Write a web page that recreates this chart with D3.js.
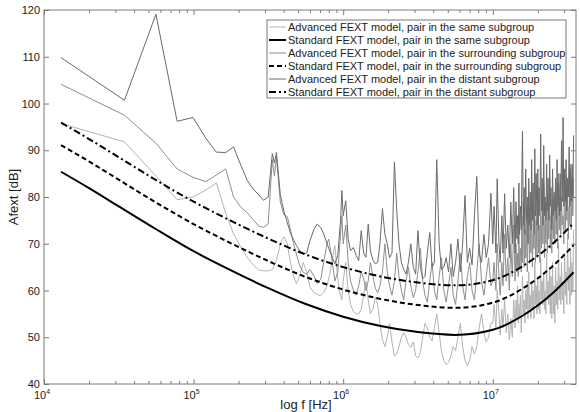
<!DOCTYPE html>
<meta charset="utf-8">
<style>
body { margin: 0; background: #fff; }
text { font-family: "Liberation Sans", Arial, sans-serif; fill: #222; }
.adv { fill: none; stroke-width: 1; stroke-linejoin: round; }
.std { fill: none; stroke: #000; stroke-width: 2; }
</style>
<svg width="580" height="412"></svg>
<script src="https://d3js.org/d3.v7.min.js"></script>
<script>

// standard models (smooth), read at a few frequencies
var stdFreq = [1.3e4, 2e4, 3.16e4, 5.62e4, 1e5, 1.78e5, 3.16e5, 5.62e5, 1e6, 1.78e6, 3.16e6, 5.62e6, 1e7, 1.58e7, 2.51e7, 3.47e7];
var stdSame = [85.4, 81.9, 78.0, 73.1, 68.4, 64.3, 60.5, 57.1, 54.4, 52.4, 51.1, 50.5, 51.6, 54.6, 59.4, 63.9];
var stdSurr = [91.1, 87.6, 83.7, 78.8, 74.2, 70.1, 66.3, 62.9, 60.2, 58.2, 56.9, 56.3, 57.4, 60.4, 65.2, 69.7];
var stdDist = [95.9, 92.4, 88.5, 83.6, 79.0, 74.9, 71.1, 67.7, 65.0, 63.0, 61.7, 61.1, 62.2, 65.2, 70.0, 74.4];

// advanced models below 1 MHz: [f, dB]
var advSameLo = [[1.3e4,95.7],[3.45e4,91.8],[5.6e4,84.5],[7.76e4,79.4],[9.92e4,80.0],[1.21e5,81.5],[1.42e5,83.0],
  [1.64e5,76.5],[1.85e5,72.1],[2.07e5,69.3],[2.29e5,67.0],[2.5e5,65.5],[2.72e5,64.4],[2.93e5,64.2],[3.15e5,64.2],
  [3.36e5,64.5],[3.58e5,66.4],[3.8e5,70.0],[4.01e5,71.5],[4.23e5,70.0],[4.44e5,66.0],[4.66e5,63.0],[4.87e5,61.5],
  [5.1e5,63.0],[5.4e5,66.0],[5.7e5,64.0],[6.0e5,60.7],[6.4e5,59.5],[7.0e5,58.9],[7.4e5,59.5],[7.8e5,61.0],
  [8.2e5,64.0],[8.6e5,68.0],[8.8e5,69.6],[9.1e5,64.2],[9.4e5,60.0],[9.8e5,58.0]];
var advSurrLo = [[1.3e4,104.1],[3.45e4,97.5],[5.6e4,91.5],[7.76e4,86.0],[9.92e4,84.2],[1.21e5,83.3],[1.42e5,84.7],
  [1.64e5,86.0],[1.85e5,80.0],[2.07e5,77.8],[2.29e5,76.6],[2.5e5,75.2],[2.72e5,73.8],[2.93e5,73.5],[3.15e5,74.2],
  [3.36e5,88.0],[3.47e5,84.5],[3.58e5,88.6],[3.8e5,79.0],[4.01e5,76.2],[4.23e5,75.8],[4.44e5,73.0],[4.66e5,70.0],
  [4.87e5,67.8],[5.1e5,65.5],[5.4e5,63.9],[5.7e5,63.5],[6.0e5,64.5],[6.4e5,63.0],[6.7e5,61.5],[7.1e5,62.5],
  [7.4e5,66.0],[7.8e5,70.0],[8.0e5,71.0],[8.3e5,68.0],[8.8e5,62.0],[9.2e5,64.0],[9.6e5,72.0],[9.8e5,76.0]];
var advDistLo = [[1.3e4,109.8],[3.45e4,100.7],[5.6e4,119.1],[7.76e4,96.2],[9.92e4,97.0],[1.21e5,92.5],[1.42e5,89.6],
  [1.64e5,89.5],[1.85e5,90.7],[2.07e5,86.8],[2.29e5,83.5],[2.5e5,81.7],[2.72e5,80.5],[2.93e5,79.3],[3.15e5,80.0],
  [3.36e5,89.3],[3.47e5,87.3],[3.58e5,89.5],[3.8e5,80.5],[4.01e5,77.0],[4.23e5,74.5],[4.44e5,72.3],[4.66e5,70.8],
  [4.87e5,69.6],[5.1e5,68.6],[5.4e5,67.8],[5.7e5,68.0],[6.0e5,70.7],[6.4e5,73.2],[6.7e5,74.2],[7.1e5,73.4],
  [7.4e5,72.1],[7.8e5,70.0],[8.2e5,68.2],[8.8e5,65.7],[9.2e5,67.5],[9.6e5,75.0],[9.8e5,81.4]];

// advanced models above 1 MHz, on a shared frequency grid
var freqHi = [1.00e6,1.04e6,1.08e6,1.12e6,1.17e6,1.22e6,1.27e6,1.32e6,1.37e6,1.42e6,1.47e6,1.52e6,1.58e6,1.64e6,1.70e6,1.76e6,
  1.83e6,1.90e6,1.97e6,2.04e6,2.12e6,2.20e6,2.28e6,2.36e6,2.45e6,2.54e6,2.63e6,2.73e6,2.83e6,2.94e6,3.05e6,3.16e6,
  3.28e6,3.40e6,3.52e6,3.65e6,3.79e6,3.93e6,4.07e6,4.22e6,4.38e6,4.54e6,4.71e6,4.88e6,5.06e6,5.25e6,5.44e6,5.64e6,
  5.85e6,6.07e6,6.29e6,6.52e6,6.76e6,7.01e6,7.27e6,7.54e6,7.82e6,8.11e6,8.41e6,8.72e6,9.04e6,9.37e6,9.72e6,
  1.00e7,1.02e7,1.05e7,1.07e7,1.10e7,1.12e7,1.15e7,1.17e7,1.20e7,1.23e7,1.26e7,1.29e7,1.32e7,1.35e7,1.38e7,
  1.41e7,1.43e7,1.45e7,1.465e7,1.48e7,1.495e7,1.51e7,1.53e7,1.55e7,1.565e7,
  1.58e7,1.60e7,1.62e7,1.64e7,1.66e7,1.68e7,1.70e7,1.72e7,1.74e7,1.76e7,
  1.78e7,1.80e7,1.82e7,1.84e7,1.86e7,1.885e7,1.91e7,1.93e7,1.95e7,1.975e7,
  2.00e7,2.02e7,2.04e7,2.065e7,2.09e7,2.115e7,2.14e7,2.165e7,2.19e7,2.215e7,
  2.24e7,2.265e7,2.29e7,2.315e7,2.34e7,2.37e7,2.40e7,2.425e7,2.45e7,2.48e7,
  2.51e7,2.54e7,2.57e7,2.60e7,2.63e7,2.66e7,2.69e7,2.72e7,2.75e7,2.785e7,
  2.82e7,2.85e7,2.88e7,2.915e7,2.95e7,2.985e7,3.02e7,3.055e7,3.09e7,3.125e7,
  3.16e7,3.20e7,3.24e7,3.275e7,3.31e7,3.35e7,3.39e7,3.43e7,3.47e7];
var advSameHi = [62,66,60,57,55.5,55,55,56,59,62,58,55,56,58.5,57,53,
  49.5,48,50,53,49,46,46.4,48,50,51,50,48.5,47.8,49,46,45.6,
  46.7,50,53,52,50,49.2,52,55,51,47,45,44.2,44.6,46,48,47.1,
  50,53,48,45,43.9,45,48,46.4,48,52,55,51,49,50,53,
  53,57,52,60,55,50.5,56,52,58,51,55,49.5,54,50,58,
  52,58,54,61,53,57,54,59,51,56,
  63,55,58,53,60,56,62,54,64,56,
  59,54,62,56,60,54,66,57,61,55,
  63,56,60,55,67,58,62,57,64,56,
  60,55,68,58,62,57,65,55,63,54,
  66,55,61,53,65,57,62,56,70,58,
  63,57,66,58,62,55,68,59,64,57,
  72,60,65,57,69,59,66,60,73];
var advSurrHi = [70,74,66,62,60,59,61,64,62.5,60,62,66,63,60.5,59.5,61,
  64,70,64,61,59,62,68,63,60,58,62,65,61,58.5,60,64,
  69,62,59,57.5,62,66,60,58,63,67,60,57.5,61,65,59,57,
  62,68,61,58,63,66,60,58,64,70,62,59,63,67,61,
  62,66,60,70,63,59,66,61,72,62,67,60,70,63,74,
  62,70,64,68,63,72,65,69,64,76,
  66,79,65,73,67,75,64,72,78,66,
  74,68,81,65,72,69,77,66,75,67,
  82,68,74,66,76,69,80,70,83,67,
  75,70,79,68,77,71,84,69,76,68,
  80,71,77,70,82,72,78,69,85,73,
  79,72,80,74,76,70,86,73,81,75,
  82,71,78,74,87,73,84,76,84];
var advDistHi = [76,79.2,71,68.5,69.2,67.5,66.4,72.8,68,67.1,74.2,68.5,66.5,65.7,66,70,
  77.5,72,70,67,68,87.5,77.1,70,66,64.5,63.5,66,70,65,63.5,72.8,
  65,62.5,63,68,72.4,65,66,88,70,64.5,65,67,64,70,63,66,
  71,64,70,80.3,66,69,65.5,76,84.4,68,66,72,67,70,80.8,
  70,78,68,83.9,70,66,76,68,80.7,69,74,67,78.9,70,82,
  68,79,71,76,70,83,72,78,73,85,
  94.1,74,82,72,86,75,80,70,84,74,
  81,73,88,75,83,72,90.3,76,85,74,
  86,73,82,76,93.5,77,84,74,91,76,
  80,75,87,77,84,75,89,78,82,73,
  86,76,81,77,84,75,88,78,83,76,
  85,77,92,79,97,78,86,79,88,77,
  84,80,90.7,78,86,79,87,80,93.2];

var yTicks = [40, 50, 60, 70, 80, 90, 100, 110, 120];
var xMajor = [1e4, 1e5, 1e6, 1e7];

var legendItems = [
  {label: "Advanced FEXT model, pair in the same subgroup", cls: "adv", color: "#b3b3b3", dash: null},
  {label: "Standard FEXT model, pair in the same subgroup", cls: "std", color: "#000", dash: null},
  {label: "Advanced FEXT model, pair in the surrounding subgroup", cls: "adv", color: "#8e8e8e", dash: null},
  {label: "Standard FEXT model, pair in the surrounding subgroup", cls: "std", color: "#000", dash: "5,3"},
  {label: "Advanced FEXT model, pair in the distant subgroup", cls: "adv", color: "#6a6a6a", dash: null},
  {label: "Standard FEXT model, pair in the distant subgroup", cls: "std", color: "#000", dash: "7,3,2,3"}
];

var svg = d3.select("svg"),
    plotL = 44, plotR = 576, plotT = 10, plotB = 384;

var x = d3.scaleLog().domain([1e4, 3.6e7]).range([plotL, plotR]),
    y = d3.scaleLinear().domain([40, 120]).range([plotB, plotT]);

svg.append("clipPath").attr("id", "clip")
  .append("rect").attr("x", plotL).attr("y", plotT).attr("width", plotR - plotL).attr("height", plotB - plotT);

var plot = svg.append("g").attr("clip-path", "url(#clip)");

function joinHi(lo, hi) {
  return lo.concat(freqHi.map(function(f, i) { return [f, hi[i]]; }));
}

var line = d3.line()
    .x(function(d) { return x(d[0]); })
    .y(function(d) { return y(d[1]); });

var smooth = d3.line()
    .curve(d3.curveMonotoneX)
    .x(function(d) { return x(d[0]); })
    .y(function(d) { return y(d[1]); });

var advSeries = [
  {data: joinHi(advSameLo, advSameHi), color: legendItems[0].color},
  {data: joinHi(advSurrLo, advSurrHi), color: legendItems[2].color},
  {data: joinHi(advDistLo, advDistHi), color: legendItems[4].color}
];

plot.selectAll(".adv")
  .data(advSeries)
  .enter().append("path")
    .attr("class", "adv")
    .attr("stroke", function(d) { return d.color; })
    .attr("d", function(d) { return line(d.data); });

var stdSeries = [
  {vals: stdSame, dash: null},
  {vals: stdSurr, dash: legendItems[3].dash},
  {vals: stdDist, dash: legendItems[5].dash}
];

plot.selectAll(".std")
  .data(stdSeries)
  .enter().append("path")
    .attr("class", "std")
    .attr("stroke-dasharray", function(d) { return d.dash; })
    .attr("d", function(d) { return smooth(stdFreq.map(function(f, i) { return [f, d.vals[i]]; })); });

// axes, MATLAB style: box with inward ticks
var minor = x.ticks().filter(function(t) { return xMajor.indexOf(t) < 0; });

function styleAxis(g) {
  g.select(".domain").remove();
  g.selectAll("line").attr("stroke", "#7a7a7a");
  g.selectAll("text").remove();
}

svg.append("g").attr("transform", "translate(0," + plotB + ")")
  .call(d3.axisBottom(x).tickValues(xMajor).tickSize(-5)).call(styleAxis);
svg.append("g").attr("transform", "translate(0," + plotB + ")")
  .call(d3.axisBottom(x).tickValues(minor).tickSize(-3)).call(styleAxis);
svg.append("g").attr("transform", "translate(0," + plotT + ")")
  .call(d3.axisTop(x).tickValues(xMajor).tickSize(-5)).call(styleAxis);
svg.append("g").attr("transform", "translate(0," + plotT + ")")
  .call(d3.axisTop(x).tickValues(minor).tickSize(-3)).call(styleAxis);
svg.append("g").attr("transform", "translate(" + plotL + ",0)")
  .call(d3.axisLeft(y).tickValues(yTicks).tickSize(-5)).call(styleAxis);
svg.append("g").attr("transform", "translate(" + plotR + ",0)")
  .call(d3.axisRight(y).tickValues(yTicks).tickSize(-5)).call(styleAxis);

svg.append("rect")
  .attr("x", plotL).attr("y", plotT).attr("width", plotR - plotL).attr("height", plotB - plotT)
  .attr("fill", "none").attr("stroke", "#7a7a7a").attr("stroke-width", 1);

svg.selectAll(".ylab")
  .data(yTicks)
  .enter().append("text")
    .attr("class", "ylab")
    .attr("x", plotL - 4)
    .attr("y", function(d) { return y(d) + 4; })
    .attr("text-anchor", "end")
    .attr("font-size", 11)
    .text(function(d) { return d; });

var xl = svg.selectAll(".xlab")
  .data(xMajor)
  .enter().append("text")
    .attr("class", "xlab")
    .attr("x", function(d) { return x(d) - 2; })
    .attr("y", plotB + 15)
    .attr("text-anchor", "middle")
    .attr("font-size", 11);
xl.append("tspan").text("10");
xl.append("tspan")
  .attr("dy", -5)
  .attr("font-size", 7)
  .text(function(d) { return Math.round(Math.log10(d)); });

svg.append("text")
  .attr("x", 306)
  .attr("y", 409)
  .attr("text-anchor", "middle")
  .attr("font-size", 13)
  .text("log f [Hz]");

svg.append("text")
  .attr("transform", "translate(18," + ((plotT + plotB) / 2) + ") rotate(-90)")
  .attr("text-anchor", "middle")
  .attr("font-size", 13)
  .text("Afext [dB]");

// legend
var lg = svg.append("g").attr("transform", "translate(267,20)");
lg.append("rect")
  .attr("width", 299).attr("height", 78)
  .attr("fill", "#fff").attr("stroke", "#7a7a7a");

var row = lg.selectAll(".row")
  .data(legendItems)
  .enter().append("g")
    .attr("class", "row")
    .attr("transform", function(d, i) { return "translate(0," + (7 + i * 13) + ")"; });

row.append("line")
  .attr("x1", 2).attr("x2", 19)
  .attr("stroke", function(d) { return d.color; })
  .attr("stroke-width", function(d) { return d.cls == "std" ? 2 : 1; })
  .attr("stroke-dasharray", function(d) { return d.dash; });

row.append("text")
  .attr("x", 21)
  .attr("y", 4)
  .attr("font-size", 11)
  .text(function(d) { return d.label; });

</script>
